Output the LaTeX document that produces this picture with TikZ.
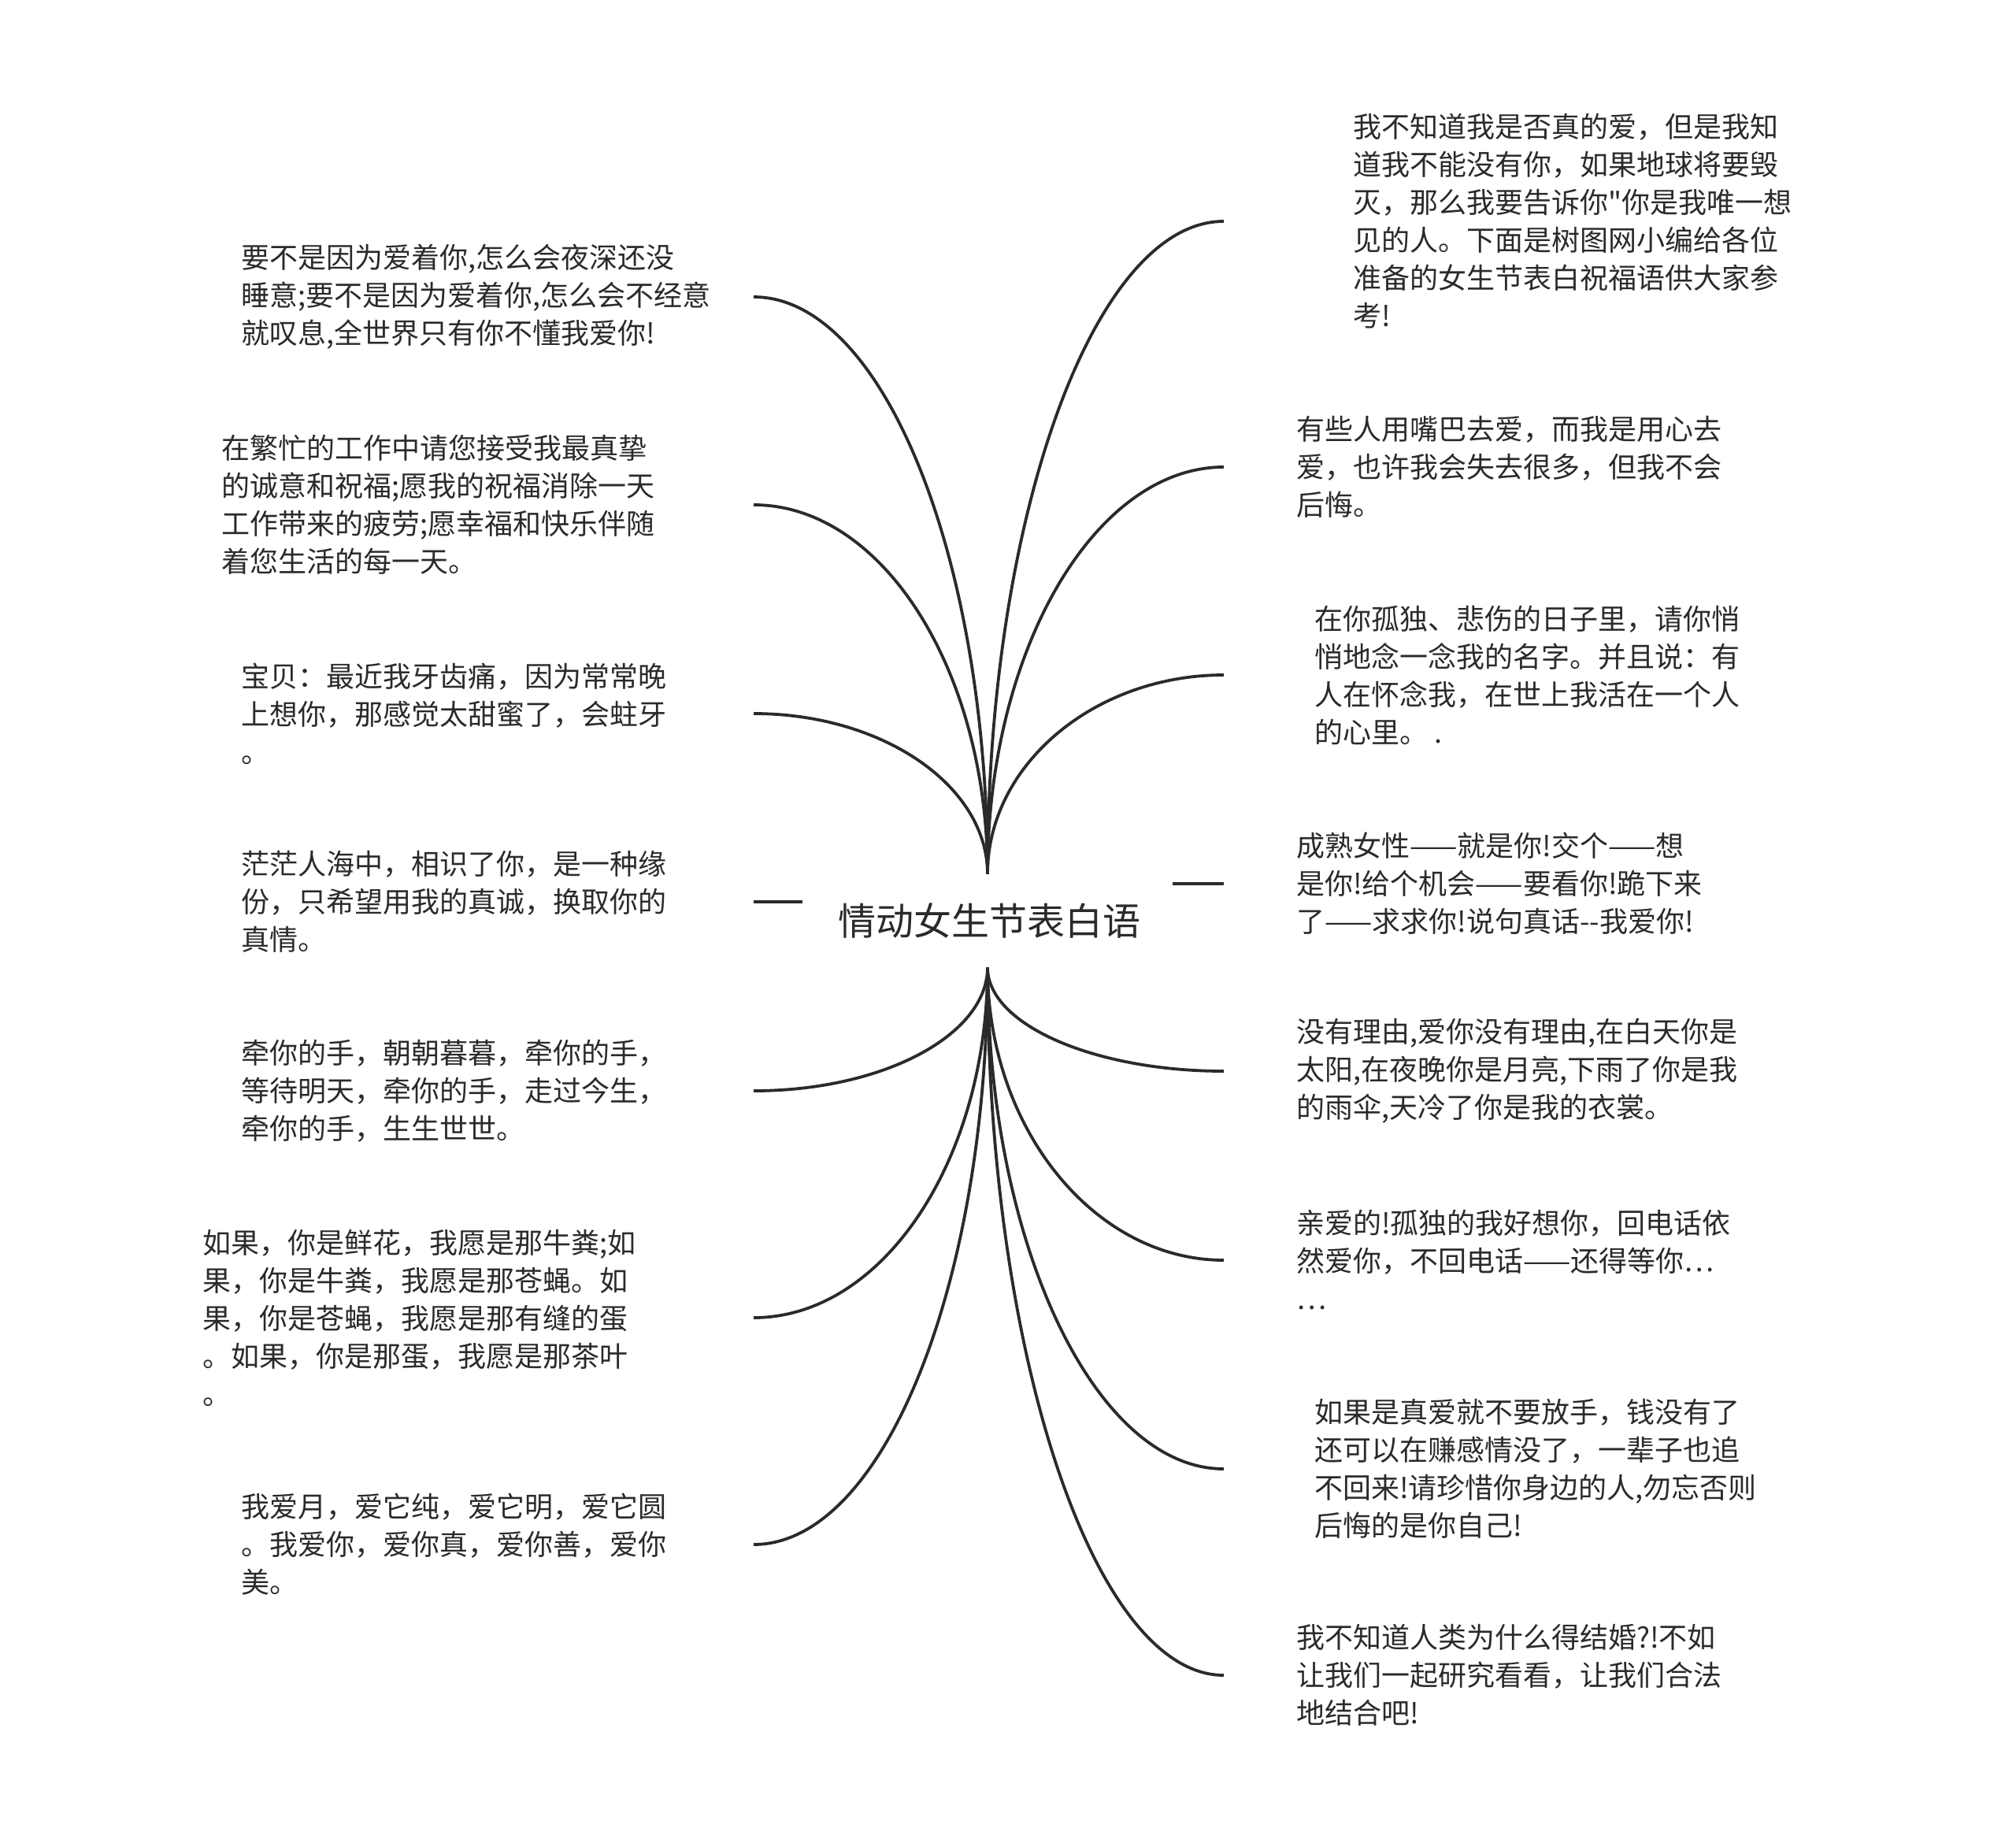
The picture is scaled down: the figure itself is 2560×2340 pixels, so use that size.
\documentclass[tikz,border=0pt]{standalone}
\usepackage{fontspec}
\newfontfamily\cjk{Noto Sans CJK SC}
\definecolor{textc}{HTML}{2A2A2A}
\definecolor{linec}{HTML}{2A2A2A}
\begin{document}
\begin{tikzpicture}[x=1pt,y=-1pt,
  txt/.style={font=\cjk\fontsize{36}{48}\selectfont, text=textc, align=left, inner sep=0pt},
  ltxt/.style={txt, anchor=east, text width=#1},
  rtxt/.style={txt, anchor=west, inner xsep=#1},
  conn/.style={draw=linec, line width=3.8pt},
  center/.style={font=\cjk\fontsize{48}{56}\selectfont, text=textc, inner sep=0pt, minimum width=470pt, minimum height=118pt}
]
\useasboundingbox (0,0) rectangle (2560,2340);

\node[center] (C) at (1254,1169) {\hspace{4pt}情动女生节表白语};

% left nodes
\node[ltxt=650pt] (L1) at (957,377) {要不是因为爱着你,怎么会夜深还没\\睡意;要不是因为爱着你,怎么会不经意\\就叹息,全世界只有你不懂我爱你!};
\node[ltxt=675pt] (L2) at (957,641) {在繁忙的工作中请您接受我最真挚\\的诚意和祝福;愿我的祝福消除一天\\工作带来的疲劳;愿幸福和快乐伴随\\着您生活的每一天。};
\node[ltxt=650pt] (L3) at (957,906) {宝贝：最近我牙齿痛，因为常常晚\\上想你，那感觉太甜蜜了，会蛀牙\\。};
\node[ltxt=650pt] (L4) at (957,1145) {茫茫人海中，相识了你，是一种缘\\份，只希望用我的真诚，换取你的\\真情。};
\node[ltxt=650pt] (L5) at (957,1385) {牵你的手，朝朝暮暮，牵你的手，\\等待明天，牵你的手，走过今生，\\牵你的手，生生世世。};
\node[ltxt=699pt] (L6) at (957,1673) {如果，你是鲜花，我愿是那牛粪;如\\果，你是牛粪，我愿是那苍蝇。如\\果，你是苍蝇，我愿是那有缝的蛋\\。如果，你是那蛋，我愿是那茶叶\\。};
\node[ltxt=650pt] (L7) at (957,1961) {我爱月，爱它纯，爱它明，爱它圆\\。我爱你，爱你真，爱你善，爱你\\美。};

% right nodes
\node[rtxt=164pt] (R1) at (1554,281) {我不知道我是否真的爱，但是我知\\道我不能没有你，如果地球将要毁\\灭，那么我要告诉你"你是我唯一想\\见的人。下面是树图网小编给各位\\准备的女生节表白祝福语供大家参\\考!};
\node[rtxt=92pt] (R2) at (1554,593) {有些人用嘴巴去爱，而我是用心去\\爱，也许我会失去很多，但我不会\\后悔。};
\node[rtxt=115pt] (R3) at (1554,857) {在你孤独、悲伤的日子里，请你悄\\悄地念一念我的名字。并且说：有\\人在怀念我，在世上我活在一个人\\的心里。 .};
\node[rtxt=92pt] (R4) at (1554,1122) {成熟女性——就是你!交个——想\\是你!给个机会——要看你!跪下来\\了——求求你!说句真话-\kern0pt-我爱你!};
\node[rtxt=92pt] (R5) at (1554,1360) {没有理由,爱你没有理由,在白天你是\\太阳,在夜晚你是月亮,下雨了你是我\\的雨伞,天冷了你是我的衣裳。};
\node[rtxt=92pt] (R6) at (1554,1600) {亲爱的!孤独的我好想你，回电话依\\然爱你，不回电话——还得等你…\\…};
\node[rtxt=115pt] (R7) at (1554,1865) {如果是真爱就不要放手，钱没有了\\还可以在赚感情没了，一辈子也追\\不回来!请珍惜你身边的人,勿忘否则\\后悔的是你自己!};
\node[rtxt=92pt] (R8) at (1554,2127) {我不知道人类为什么得结婚?!不如\\让我们一起研究看看，让我们合法\\地结合吧!};

% connectors, left top
\draw[conn] (C.north) .. controls +(0,-403) and +(164,0) .. (L1.east);
\draw[conn] (C.north) .. controls +(0,-258) and +(164,0) .. (L2.east);
\draw[conn] (C.north) .. controls +(0,-112) and +(164,0) .. (L3.east);
% left bottom
\draw[conn] (C.south) .. controls +(0,86) and +(164,0) .. (L5.east);
\draw[conn] (C.south) .. controls +(0,245) and +(164,0) .. (L6.east);
\draw[conn] (C.south) .. controls +(0,403) and +(164,0) .. (L7.east);
% right top
\draw[conn] (C.north) .. controls +(0,-456) and +(-164,0) .. (R1.west);
\draw[conn] (C.north) .. controls +(0,-284) and +(-164,0) .. (R2.west);
\draw[conn] (C.north) .. controls +(0,-139) and +(-164,0) .. (R3.west);
% right bottom
\draw[conn] (C.south) .. controls +(0,73) and +(-164,0) .. (R5.west);
\draw[conn] (C.south) .. controls +(0,205) and +(-164,0) .. (R6.west);
\draw[conn] (C.south) .. controls +(0,350) and +(-164,0) .. (R7.west);
\draw[conn] (C.south) .. controls +(0,494) and +(-164,0) .. (R8.west);
% short connectors beside the centre
\draw[conn] (L4.east) -- (L4.east -| C.west);
\draw[conn] (R4.west) -- (R4.west -| C.east);
\end{tikzpicture}
\end{document}
